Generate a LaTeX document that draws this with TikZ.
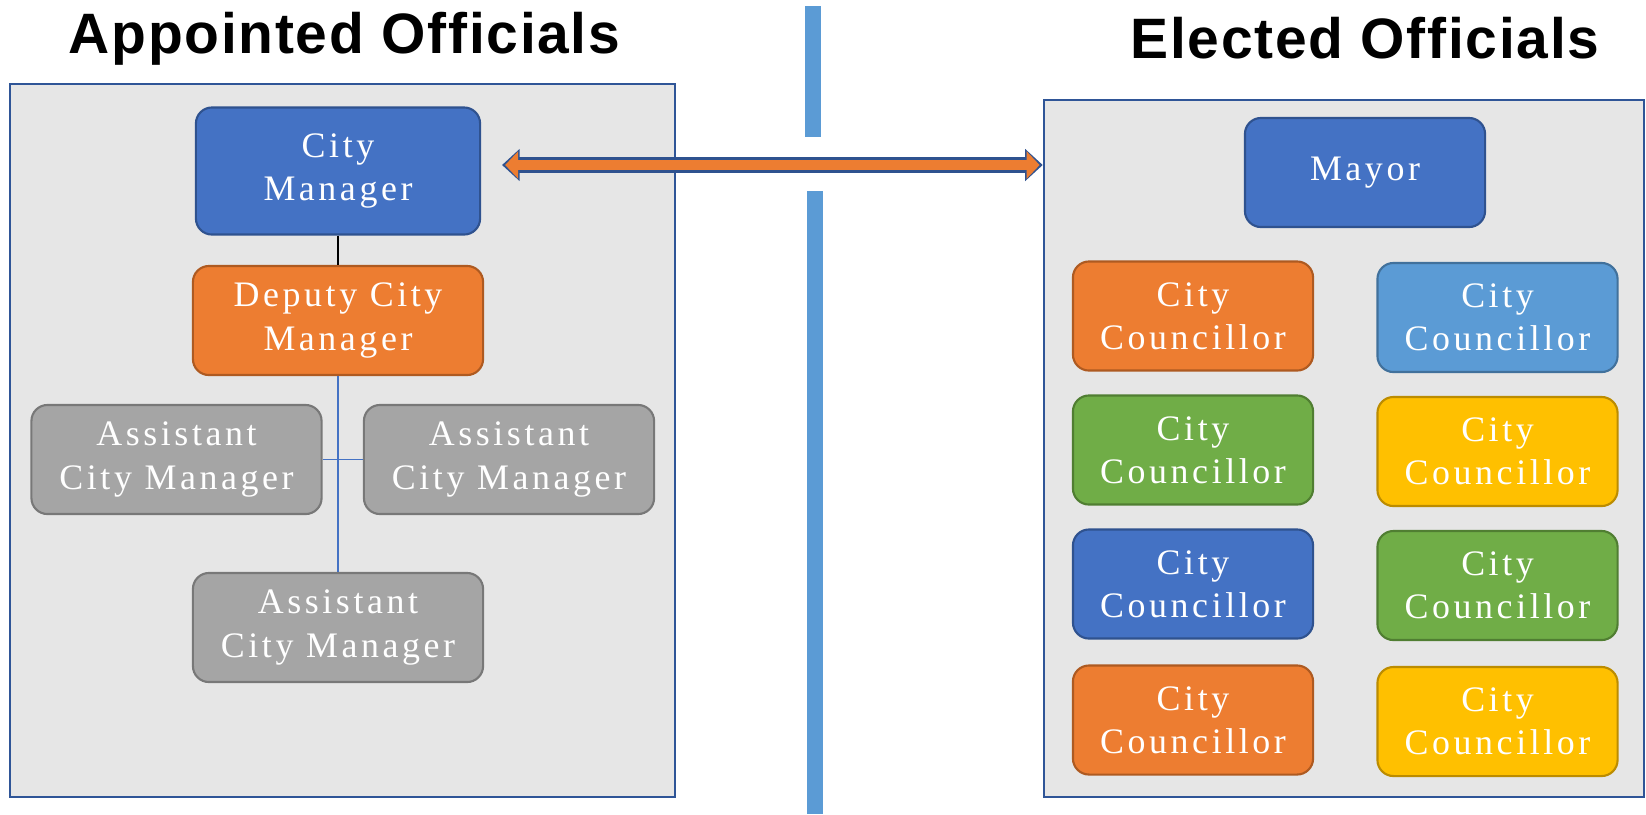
\documentclass[tikz,border=0pt]{standalone}
\usepackage{fontspec}
\setmainfont{Liberation Serif}
\newfontfamily\boxfont[LetterSpace=10]{Liberation Serif}
\newfontfamily\headfont[LetterSpace=3]{Liberation Sans Bold}
\usetikzlibrary{positioning,arrows.meta}
\definecolor{offblue}{HTML}{4472C4}
\definecolor{offblueline}{HTML}{2F528F}
\definecolor{offorange}{HTML}{ED7D31}
\definecolor{offorangeline}{HTML}{AE5A21}
\definecolor{offgray}{HTML}{A5A5A5}
\definecolor{offgrayline}{HTML}{787878}
\definecolor{offsky}{HTML}{5B9BD5}
\definecolor{offskyline}{HTML}{41719C}
\definecolor{offgold}{HTML}{FFC000}
\definecolor{offgoldline}{HTML}{BC8C00}
\definecolor{offgreen}{HTML}{70AD47}
\definecolor{offgreenline}{HTML}{507E32}
\definecolor{panelgray}{HTML}{E6E6E6}
\definecolor{panelline}{HTML}{2F5597}

\begin{document}
\begin{tikzpicture}[x=0.01cm, y=-0.01cm,
        box/.style={draw, rounded corners=0.16cm, line width=0.6pt, text=white, align=center, inner sep=0pt,
                font={\boxfont\fontsize{10.2}{12.3}\selectfont}, minimum width=2.4cm, minimum height=1.09cm},
        fblue/.style={box, fill=offblue, draw=offblueline},
        forange/.style={box, fill=offorange, draw=offorangeline},
        fgray/.style={box, fill=offgray, draw=offgrayline, minimum width=2.9cm},
        fsky/.style={box, fill=offsky, draw=offskyline},
        fgold/.style={box, fill=offgold, draw=offgoldline},
        fgreen/.style={box, fill=offgreen, draw=offgreenline},
        panel/.style={draw=panelline, fill=panelgray, line width=0.6pt, inner sep=0pt},
        head/.style={font={\headfont\fontsize{16.2}{19}\selectfont}, anchor=base}]
        \useasboundingbox (0,0) rectangle (1646,814);

        \node[head] (ta) at (344.5,53) {Appointed Officials};
        \node[head] (te) at (1365,58) {Elected Officials};

        \fill[offsky] (805,6) rectangle (821,137);
        \fill[offsky] (807,191) rectangle (823,814);

        \node[panel, minimum width=6.65cm, minimum height=7.13cm] (ap) at (342.5,440.5) {};
        \node[panel, minimum width=6.0cm, minimum height=6.97cm] (ep) at (1344,448.5) {};

        \node[fblue, minimum width=2.84cm, minimum height=1.27cm] (cm) at (338,171) {City\\Manager};
        \node[forange, minimum width=2.9cm] (dcm) at (338,320.5) {Deputy City\\Manager};
        \node[fgray] (acm1) at (176.5,459.5) {Assistant\\City Manager};
        \node[fgray] (acm2) at (509,459.5) {Assistant\\City Manager};
        \node[fgray] (acm3) at (338,627.5) {Assistant\\City Manager};

        \node[fblue] (my) at (1365,172.5) {Mayor};
        \node[forange] (c1) at (1193,316) {City\\Councillor};
        \node[fsky] (c2) at (1497.5,317.5) {City\\Councillor};
        \node[fgreen] (c3) at (1193,450) {City\\Councillor};
        \node[fgold] (c4) at (1497.5,451.5) {City\\Councillor};
        \node[fblue] (c5) at (1193,584) {City\\Councillor};
        \node[fgreen] (c6) at (1497.5,585.5) {City\\Councillor};
        \node[forange] (c7) at (1193,720) {City\\Councillor};
        \node[fgold] (c8) at (1497.5,721.5) {City\\Councillor};

        \draw[line width=0.3pt] (cm) -- (dcm);
        \draw[offblue, line width=0.4pt] (dcm) -- (acm3);
        \draw[offblue, line width=0.5pt] (acm1) -- (acm2);

        \coordinate (al) at (502,165);
        \coordinate (ar) at (ep.west |- al);
        \draw[offblueline, line width=4.3pt, {Triangle[length=5pt, width=8.8pt]}-{Triangle[length=5pt, width=8.8pt]}] (al) -- (ar);
        \draw[offorange, line width=3.1pt, {Triangle[length=3.7pt, width=7.6pt]}-{Triangle[length=3.7pt, width=7.6pt]},
                shorten <=0.9pt, shorten >=0.9pt] (al) -- (ar);
\end{tikzpicture}
\end{document}
